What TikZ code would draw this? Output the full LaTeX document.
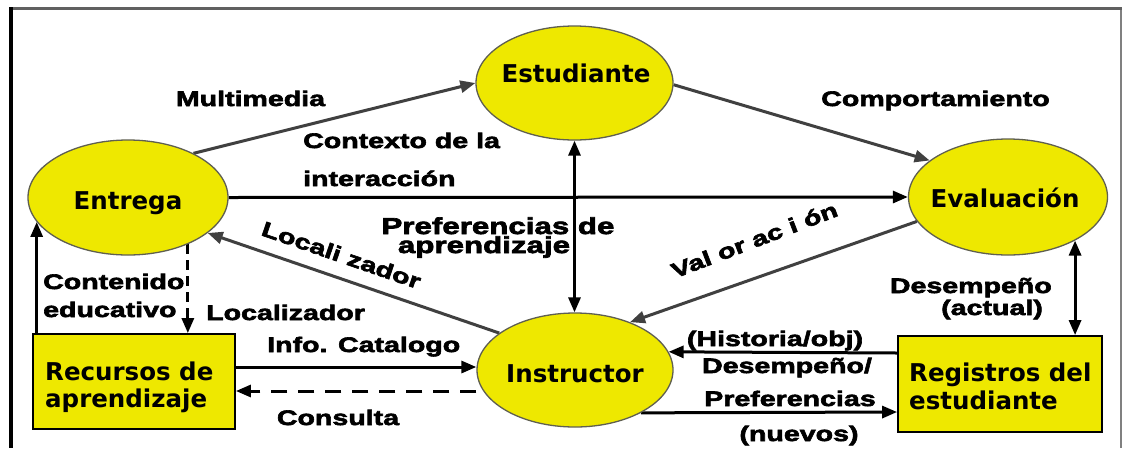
\documentclass[tikz,border=0pt]{standalone}
\usepackage{fontspec}
\usetikzlibrary{arrows.meta,shapes.geometric,backgrounds}
\newfontfamily\lblfont[FakeStretch=1.36,FakeBold=3]{Liberation Sans Bold}
\newfontfamily\nodefont{DejaVu Sans}
\definecolor{ylw}{RGB}{238,232,0}
\definecolor{edgec}{RGB}{95,95,80}
\definecolor{frameg}{RGB}{96,96,96}
\begin{document}
\begin{tikzpicture}[x=1pt,y=-1pt,
  ell/.style={ellipse, draw=edgec, line width=1.3pt, fill=ylw, inner sep=0pt},
  box/.style={rectangle, draw=black, line width=1.8pt, fill=ylw, inner sep=0pt},
  ntxt/.style={font=\nodefont\bfseries\fontsize{24.5pt}{28pt}\selectfont, inner sep=0pt, anchor=base},
  lbl/.style={font=\lblfont\fontsize{21pt}{24pt}\selectfont, inner sep=0pt, anchor=base},
  biglbl/.style={font=\lblfont\fontsize{23pt}{24pt}\selectfont, inner sep=0pt, anchor=base},
  conn/.style={line width=3pt, -{Triangle[length=15pt,width=12pt]}},
  dconn/.style={line width=3pt, {Triangle[length=15pt,width=12pt]}-{Triangle[length=15pt,width=12pt]}},
  gconn/.style={conn, draw=black!75},
  dashconn/.style={conn, dash pattern=on 16pt off 11pt},
  vdashconn/.style={conn, dash pattern=on 10pt off 6pt},
]
\useasboundingbox (0,0) rectangle (1126,448);

% nodes
\node[ell, minimum width=197pt, minimum height=114pt] (stu) at (574.5,83) {};
\node[ell, minimum width=200pt, minimum height=115pt] (ent) at (128,197.5) {};
\node[ell, minimum width=199pt, minimum height=116pt] (eva) at (1008,197) {};
\node[ell, minimum width=196pt, minimum height=114pt] (ins) at (575,370) {};
\node[box, minimum width=202pt, minimum height=95pt] (rec) at (134,381.5) {};
\node[box, minimum width=204pt, minimum height=96pt] (reg) at (1000,384) {};

\node[ntxt] (stuT) at (576,82) {Estudiante};
\node[ntxt] (entT) at (128,209) {Entrega};
\node[ntxt] (evaT) at (1005,207) {Evaluación};
\node[ntxt] (insT) at (575,382) {Instructor};
\node[ntxt, anchor=base west] (recT1) at (45,380) {Recursos de};
\node[ntxt, anchor=base west] (recT2) at (45,407) {aprendizaje};
\node[ntxt, anchor=base west] (regT1) at (909,381) {Registros del};
\node[ntxt, anchor=base west] (regT2) at (909,409) {estudiante};

\coordinate (a1) at ([yshift=14.5pt]rec.east);
\coordinate (a2) at ([yshift=-9.5pt]rec.east);
\coordinate (a3) at ([yshift=31pt]reg.west);
\coordinate (a4) at ([yshift=-28pt]reg.west);

\begin{scope}[on background layer]
\fill[white] (0,0) rectangle (1126,448);
% frame
\draw[frameg, line width=3pt] (11,8.5) -- (1122,8.5);
\draw[black, line width=4.5pt] (11,7) -- (11,448);
\draw[gray, line width=2pt] (1121,10) -- (1121,448);
% connectors
\draw[gconn] (ent.34) -- (stu.180);
\draw[gconn] (stu.359) -- (eva.155);
\draw[conn] (ent.east) -- (eva.west);
\draw[dconn] (stu.south) -- (stu.south |- ins.north);
\draw[gconn] (ins.154.6) -- (ent.336.8);
\draw[gconn] (eva.195.6) -- (ins.41.9);
\draw[dconn] (eva.327) -- (eva.327 |- reg.north);
\draw[conn] (a1) -- (a1 -| ins.west);
\draw[dashconn] (a2 -| ins.west) -- (a2);
\draw[conn] (a3) -- (ins.11);
\draw[conn] (ins.327.5) -- (a4);
\draw[conn] (ent.195 |- rec.north) -- (ent.195);
\draw[vdashconn] (ent.322) -- (ent.322 |- rec.north);
\end{scope}

% labels
\node[lbl] (lMul) at (250.5,106) {Multimedia};
\node[lbl, anchor=base west] (lCon1) at (303,148) {Contexto de la};
\node[lbl, anchor=base west] (lCon2) at (303,186) {interacción};
\node[lbl] (lCom) at (935.5,106) {Comportamiento};
\node[biglbl] (lPre1) at (498,234) {Preferencias de};
\node[biglbl] (lPre2) at (484,253) {aprendizaje};
\node[lbl, rotate=-19] (lLoc1) at (339,262) {Locali zador};
\node[lbl, rotate=21] (lVal) at (757,247) {Val or ac i ón};
\node[lbl, anchor=base east] (lDes1) at (1052,293) {Desempeño};
\node[lbl, anchor=base east] (lDes2) at (1043,315) {(actual)};
\node[lbl, anchor=base west] (lCnt1) at (43,289) {Contenido};
\node[lbl, anchor=base west] (lCnt2) at (43,317) {educativo};
\node[lbl, anchor=base west] (lLoc2) at (206,320) {Localizador};
\node[lbl, anchor=base west] (lInf) at (267,352) {Info. Catalogo};
\node[lbl] (lCons) at (338,425) {Consulta};
\node[lbl] (lHis) at (775,346) {(Historia/obj)};
\node[lbl] (lDes3) at (787,373) {Desempeño/};
\node[lbl] (lPre3) at (790,406) {Preferencias};
\node[lbl] (lNue) at (799,441) {(nuevos)};
\end{tikzpicture}
\end{document}
